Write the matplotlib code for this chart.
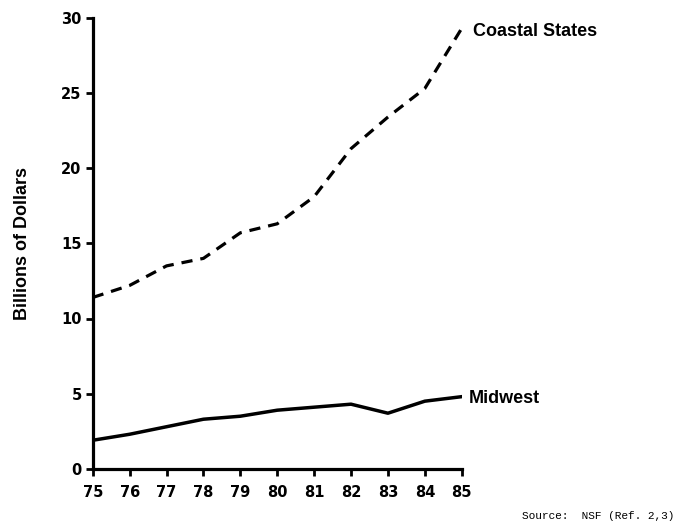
import matplotlib
matplotlib.use('Agg')
import matplotlib.pyplot as plt

years = [75, 76, 77, 78, 79, 80, 81, 82, 83, 84, 85]
coastal = [11.4, 12.2, 13.5, 14.0, 15.7, 16.3, 18.1, 21.3, 23.4, 25.3, 29.3]
midwest = [1.9, 2.3, 2.8, 3.3, 3.5, 3.9, 4.1, 4.3, 3.7, 4.5, 4.8]
y_ticks = [0, 5, 10, 15, 20, 25, 30]

plt.rcParams['font.family'] = 'Liberation Sans'
plt.rcParams['font.weight'] = 'bold'

fig = plt.figure(figsize=(6.82, 5.25), dpi=100)
ax = fig.add_axes([0.136, 0.107, 0.541, 0.859])

ax.plot(years, coastal, color='black', lw=2.3, ls=(0, (3.5, 2.5)))
ax.plot(years, midwest, color='black', lw=2.5)

ax.set_xlim(75, 85)
ax.set_ylim(0, 30)
ax.set_xticks(years)
ax.set_yticks(y_ticks)
ax.tick_params(width=2, length=5)
ax.tick_params(axis='y', pad=3)
ax.tick_params(axis='x', pad=7)
for lab in ax.get_xticklabels() + ax.get_yticklabels():
    lab.set_fontfamily('DejaVu Sans')
    lab.set_fontweight('bold')
    lab.set_fontsize(10.5)

for s in ['top', 'right']:
    ax.spines[s].set_visible(False)
for s in ['left', 'bottom']:
    ax.spines[s].set_linewidth(2.3)

ax.set_ylabel('Billions of Dollars', fontsize=13, fontweight='bold', labelpad=22)

ax.text(85.3, 29.1, 'Coastal States', fontsize=13, fontweight='bold', va='center', ha='left')
ax.text(85.2, 4.65, 'Midwest', fontsize=13, fontweight='bold', va='center', ha='left')

fig.text(0.766, 0.008, 'Source:  NSF (Ref. 2,3)', family='Liberation Mono', fontsize=8,
         fontweight='normal', ha='left', va='bottom')

fig.savefig('out.png', dpi=100)
